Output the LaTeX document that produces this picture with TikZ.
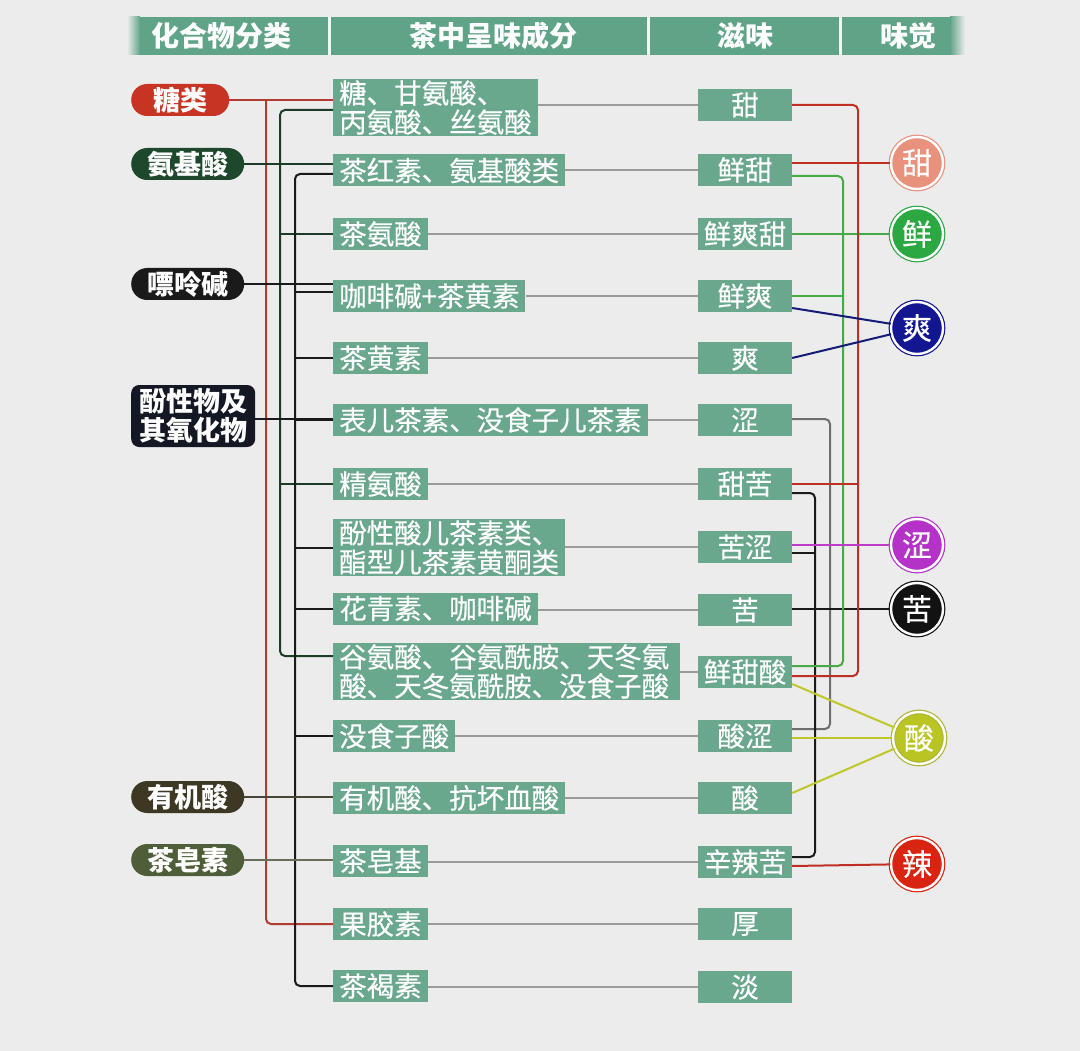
\documentclass[tikz,border=0pt]{standalone}
\usepackage{fontspec}
\setmainfont{Noto Sans CJK SC}
\newfontfamily\medfont{Noto Sans CJK SC}[FakeBold=0.4]
\usetikzlibrary{positioning,calc}
\definecolor{bggray}{RGB}{236,236,236}
\definecolor{headteal}{RGB}{96,164,136}
\definecolor{boxteal}{RGB}{106,168,142}
\definecolor{sugarc}{RGB}{200,52,36}
\definecolor{aminoc}{RGB}{30,72,44}
\definecolor{purinec}{RGB}{26,26,26}
\definecolor{phenolc}{RGB}{20,24,36}
\definecolor{organicc}{RGB}{60,56,36}
\definecolor{saponinc}{RGB}{78,94,56}
\definecolor{tianc}{RGB}{232,146,126}
\definecolor{xianc}{RGB}{44,168,66}
\definecolor{shuangc}{RGB}{18,22,145}
\definecolor{sec}{RGB}{180,50,200}
\definecolor{kuc}{RGB}{18,18,18}
\definecolor{suanc}{RGB}{186,196,34}
\definecolor{lac}{RGB}{216,36,16}
\definecolor{sugarl}{RGB}{176,60,50}
\definecolor{aminol}{RGB}{28,60,40}
\definecolor{linkgray}{RGB}{155,155,155}
\definecolor{sweetl}{RGB}{190,48,36}
\definecolor{freshl}{RGB}{70,170,70}
\definecolor{coolnl}{RGB}{20,28,120}
\definecolor{astrl}{RGB}{110,110,110}
\definecolor{magl}{RGB}{190,60,200}
\definecolor{sourl}{RGB}{190,200,40}

\begin{document}
\begin{tikzpicture}[x=1pt, y=-1pt,
  every node/.style={font=\medfont\fontsize{27.5}{29}\selectfont, text=white},
  comp/.style={rectangle, fill=boxteal, anchor=west, align=left,
    inner xsep=6pt, inner ysep=1.5pt, minimum height=32pt},
  taste/.style={rectangle, fill=boxteal, minimum width=94pt,
    minimum height=32pt, inner sep=0pt},
  cat/.style={rectangle, rounded corners=16pt, anchor=west, inner xsep=16pt,
    inner ysep=0pt, minimum height=32pt, font=\fontsize{27}{29}\selectfont\bfseries},
  sense/.style={circle, minimum size=52pt, inner sep=0pt, line width=1.2pt,
    double=white, double distance=2.4pt, font=\medfont\fontsize{30}{30}\selectfont},
  head/.style={font=\fontsize{28}{28}\selectfont\bfseries},
  link/.style={draw=linkgray, line width=1.8pt},
  trunk/.style={line width=2pt, rounded corners=5pt}
]
  \fill[bggray] (0,0) rectangle (1080,1051);
  \useasboundingbox (0,0) rectangle (1080,1051);

  % header
  \fill[headteal] (140,17) rectangle (950,55);
  \shade[left color=bggray, right color=headteal] (127,17) rectangle (140,55);
  \shade[left color=headteal, right color=bggray] (950,17) rectangle (965,55);
  \foreach \sx in {329,648,840}
    \draw[white!90!headteal, line width=3pt] (\sx,17) -- (\sx,55);
  \node[head] (h1) at (221,36) {化合物分类};
  \node[head] (h2) at (493,36) {茶中呈味成分};
  \node[head] (h3) at (745,36) {滋味};
  \node[head] (h4) at (908,36) {味觉};

  % categories
  \node[cat, fill=sugarc, minimum width=98pt] (sugar) at (131,100) {糖类};
  \node[cat, fill=aminoc] (amino) at (131,164) {氨基酸};
  \node[cat, fill=purinec] (purine) at (131,284) {嘌呤碱};
  \node[cat, fill=phenolc, rounded corners=8pt, inner xsep=8pt, minimum height=62pt,
    align=left] (phenol) at (131,416) {酚性物及\\其氧化物};
  \node[cat, fill=organicc] (organic) at (131,797) {有机酸};
  \node[cat, fill=saponinc] (saponin) at (131,860) {茶皂素};

  % components
  \node[comp] (r1) at (333,107.5) {糖、甘氨酸、\\丙氨酸、丝氨酸};
  \node[comp] (r2) at (333,170.5) {茶红素、氨基酸类};
  \node[comp] (r3) at (333,234) {茶氨酸};
  \node[comp] (r4) at (333,296) {咖啡碱+茶黄素};
  \node[comp] (r5) at (333,358) {茶黄素};
  \node[comp] (r6) at (333,420) {表儿茶素、没食子儿茶素};
  \node[comp] (r7) at (333,484) {精氨酸};
  \node[comp] (r8) at (333,547.5) {酚性酸儿茶素类、\\酯型儿茶素黄酮类};
  \node[comp] (r9) at (333,608.5) {花青素、咖啡碱};
  \node[comp, text width=335pt] (r10) at (333,671.5) {谷氨酸、谷氨酰胺、天冬氨\\酸、天冬氨酰胺、没食子酸};
  \node[comp] (r11) at (333,736) {没食子酸};
  \node[comp] (r12) at (333,798) {有机酸、抗坏血酸};
  \node[comp] (r13) at (333,861) {茶皂基};
  \node[comp] (r14) at (333,924) {果胶素};
  \node[comp] (r15) at (333,986) {茶褐素};

  % tastes
  \node[taste] (t1) at (745,105) {甜};
  \node[taste] (t2) at (745,170) {鲜甜};
  \node[taste] (t3) at (745,234) {鲜爽甜};
  \node[taste] (t4) at (745,296) {鲜爽};
  \node[taste] (t5) at (745,358) {爽};
  \node[taste] (t6) at (745,420) {涩};
  \node[taste] (t7) at (745,484) {甜苦};
  \node[taste] (t8) at (745,547) {苦涩};
  \node[taste] (t9) at (745,610) {苦};
  \node[taste] (t10) at (745,672) {鲜甜酸};
  \node[taste] (t11) at (745,736) {酸涩};
  \node[taste] (t12) at (745,798) {酸};
  \node[taste] (t13) at (745,862) {辛辣苦};
  \node[taste] (t14) at (745,924) {厚};
  \node[taste] (t15) at (745,987) {淡};

  % senses
  \node[sense, fill=tianc, draw=tianc] (tian) at (917,163) {甜};
  \node[sense, fill=xianc, draw=xianc] (xian) at (917,234) {鲜};
  \node[sense, fill=shuangc, draw=shuangc] (shuang) at (917,328) {爽};
  \node[sense, fill=sec, draw=sec] (se) at (917,545) {涩};
  \node[sense, fill=kuc, draw=kuc] (ku) at (917,609) {苦};
  \node[sense, fill=suanc, draw=suanc!80!gray] (suan) at (919,738) {酸};
  \node[sense, fill=lac, draw=lac] (la) at (917,864) {辣};

  % component -> taste
  \foreach \i in {1,...,15}
    \draw[link] (t\i.west) -- (t\i.west -| r\i.east);

  % left trunks
  \draw[trunk, sugarl] (sugar.east) -- (sugar.east -| r1.west);
  \draw[trunk, sugarl] (266,100) |- (r14.west);
  \draw[trunk, aminol] (r1.west |- 0,110) -| (280,656) -- (r10.west |- 0,656);
  \draw[trunk, aminol] (r3.west) -- (r3.west -| 280,0);
  \draw[trunk, aminol] (r7.west) -- (r7.west -| 280,0);
  \draw[trunk, purinec] (r2.west |- 0,174) -| (295,986) -- (r15.west);
  \draw[trunk, purinec] (r4.west |- 0,292) -- (295,292);
  \foreach \j in {5,6,8,9,11}
    \draw[trunk, purinec] (r\j.west) -- (r\j.west -| 295,0);
  \draw[trunk, aminol] (amino.east) -- (amino.east -| r2.west);
  \draw[trunk, purinec] (purine.east) -- (purine.east -| r4.west);
  \draw[trunk, purinec] (phenol.east |- 0,419) -- (r6.west |- 0,419);
  \draw[trunk, organicc!80!gray] (organic.east) -- (organic.east -| r12.west);
  \draw[trunk, saponinc!50!gray] (saponin.east) -- (saponin.east -| r13.west);

  % right trunks
  \draw[trunk, astrl] (t6.east |- 0,419) -| (830,729) -- (t11.east |- 0,729);
  \draw[trunk, purinec] (t7.east |- 0,493) -| (815,857) -- (t13.east |- 0,857);
  \draw[trunk, purinec] (t8.east |- 0,553) -- (815,553);
  \draw[trunk, purinec] (t9.east |- ku) -- (ku);
  \draw[trunk, freshl] (t2.east |- 0,176) -| (843,666) -- (t10.east |- 0,666);
  \draw[trunk, freshl] (t3.east |- xian) -- (xian);
  \draw[trunk, freshl] (t4.east |- 0,296) -- (843,296);
  \draw[trunk, sweetl] (t1.east |- 0,105) -| (858,676) -- (t10.east |- 0,676);
  \draw[trunk, sweetl] (t2.east |- tian) -- (tian);
  \draw[trunk, sweetl] (t7.east |- 0,484) -- (858,484);
  \draw[trunk, magl] (t8.east |- se) -- (se);
  \draw[trunk, coolnl] (t4.east |- 0,308) -- (shuang);
  \draw[trunk, coolnl] (t5.east) -- (shuang);
  \draw[trunk, sourl] (t10.east |- 0,684) -- (suan);
  \draw[trunk, sourl] (t11.east |- suan) -- (suan);
  \draw[trunk, sourl] (t12.east |- 0,793) -- (suan);
  \draw[trunk, sweetl] (t13.east |- 0,866) -- (la);
\end{tikzpicture}
\end{document}
